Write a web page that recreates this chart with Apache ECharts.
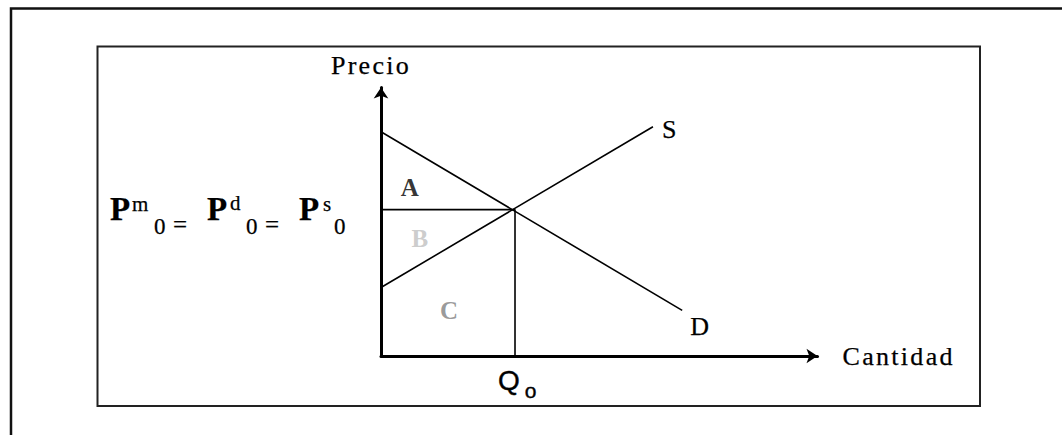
<!DOCTYPE html>
<html><head><meta charset="utf-8">
<script src="https://cdn.jsdelivr.net/npm/echarts@6/dist/echarts.min.js"></script>
<style>html,body{margin:0;padding:0;background:#fff}#c{width:1062px;height:435px}</style>
</head><body><div id="c"></div>
<script>
// ---- data (axis units 0..10) ----
const qEq = 3.07;                         // Q0
const pEq = 5.45;                         // P0
const demand = [[0, 8.35], [6.90, 1.70]]; // D
const supply = [[0, 2.55], [6.23, 8.54]]; // S
const guides = [[0, pEq], [qEq, pEq], [qEq, 0]];
const areaNames = ['A', 'B', 'C'];
const axisNames = ['Cantidad', 'Precio'];
const curveNames = ['D', 'S'];

const SERIF = 'Liberation Serif, Times New Roman, serif';
const SANS = 'Liberation Sans, Arial, sans-serif';

const chart = echarts.init(document.getElementById('c'), null, {renderer: 'svg'});

function axisBase(name, nameGap, nameStyle) {
  return {
    type: 'value', min: 0, max: 10,
    name: name, nameLocation: 'end', nameGap: nameGap,
    nameTextStyle: Object.assign({fontFamily: SERIF, fontSize: 26, color: '#000',
      textBorderColor: '#000', textBorderWidth: 0.25}, nameStyle),
    axisLine: {show: true, onZero: false, symbol: ['none', 'arrow'], symbolSize: [11, 11],
      lineStyle: {color: '#000', width: 3}},
    axisTick: {show: false}, axisLabel: {show: false}, splitLine: {show: false}
  };
}

const curveLabel = (txt, off) => ({
  show: true, formatter: txt, offset: off, distance: 5,
  fontFamily: SERIF, fontSize: 26, color: '#000', textBorderColor: '#000', textBorderWidth: 0.25
});

const areaColors = {A: '#000000', B: '#c0c0c0', C: '#808080'};
const areaAnchors = {A: [0.66, 6.28], B: [0.89, 4.39], C: [1.56, 1.71]};

chart.setOption({
  animation: false,
  grid: {left: 381, right: 244.5, top: 87.5, bottom: 79, outerBoundsMode: 'none', containLabel: false},
  xAxis: axisBase(axisNames[0], 25, {align: 'left', verticalAlign: 'middle'}),
  yAxis: axisBase(axisNames[1], 9, {align: 'center', verticalAlign: 'bottom', padding: [0, 20, 0, 0]}),
  series: [
    {type: 'line', name: curveNames[0], data: demand, symbol: 'none', silent: true,
      lineStyle: {color: '#000', width: 1.6}, endLabel: curveLabel(curveNames[0], [3, 16])},
    {type: 'line', name: curveNames[1], data: supply, symbol: 'none', silent: true,
      lineStyle: {color: '#000', width: 1.6}, endLabel: curveLabel(curveNames[1], [4, 3])},
    {type: 'line', name: 'eq', data: guides, symbol: 'none', silent: true,
      lineStyle: {color: '#000', width: 1.6}},
    {type: 'scatter', name: 'areas', symbolSize: 0, silent: true,
      data: areaNames.map(n => ({name: n, value: areaAnchors[n],
        label: {show: true, position: 'inside', formatter: n, color: areaColors[n],
          fontFamily: SERIF, fontWeight: 'bold', fontSize: 25}}))}
  ]
});

const qPix = chart.convertToPixel({xAxisIndex: 0, yAxisIndex: 0}, [qEq, 0]);

function t(text, x, y, size, opts) {
  return {type: 'text', silent: true, style: Object.assign({
    text: text, x: x, y: y, fontFamily: SERIF, fontSize: size, fill: '#000',
    stroke: '#000', lineWidth: 0.25,
    textAlign: 'left', textVerticalAlign: 'middle', align: 'left', verticalAlign: 'middle'
  }, opts || {})};
}

chart.setOption({
  graphic: [
    {type: 'polyline', silent: true, shape: {points: [[11, 440], [11, 8.5], [1070, 8.5]]},
      style: {stroke: '#111', lineWidth: 2.5, fill: null}},
    {type: 'rect', silent: true, shape: {x: 97.5, y: 46.5, width: 882.5, height: 359.5},
      style: {stroke: '#222', lineWidth: 2, fill: null}},
    // P^m_0 = P^d_0 = P^s_0
    t('P', 110, 209, 33, {fontWeight: 'bold'}),
    t('m', 132, 203.5, 21),
    t('0', 154, 226, 23),
    t('=', 173, 224, 25),
    t('P', 207, 209, 33, {fontWeight: 'bold'}),
    t('d', 230, 203, 21),
    t('0', 246, 226, 23),
    t('=', 265, 224, 25),
    t('P', 299, 209, 33, {fontWeight: 'bold'}),
    t('s', 323, 203.5, 21),
    t('0', 334, 226, 23),
    // Q_o under the equilibrium quantity
    t('Q', qPix[0] - 6, 380.5, 28, {fontFamily: SANS, textAlign: 'center', align: 'center', lineWidth: 0.4}),
    t('o', qPix[0] + 15.5, 390, 21, {fontFamily: SANS, textAlign: 'center', align: 'center', lineWidth: 0.4})
  ]
});

function spaceNames() {
  document.querySelectorAll('#c text').forEach(el => {
    const s = (el.textContent || '').trim();
    if (axisNames.indexOf(s) >= 0) {
      el.setAttribute('letter-spacing', '2.3');
      el.style.letterSpacing = '2.3px';
    }
  });
}
spaceNames();
chart.on('finished', spaceNames);
setTimeout(spaceNames, 50);
setTimeout(spaceNames, 300);
</script>
</body></html>
